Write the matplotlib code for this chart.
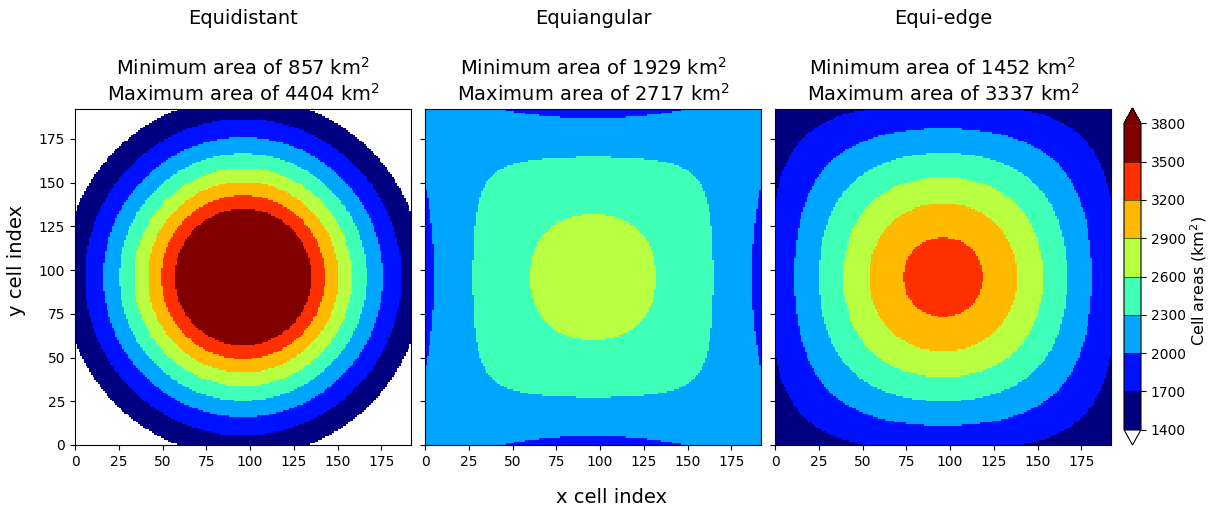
import numpy as np
import matplotlib
matplotlib.use('Agg')
import matplotlib.pyplot as plt
from matplotlib.colors import ListedColormap, BoundaryNorm

# grid description
n_cells = 192          # cells along one face edge
radius = 6371.0        # earth radius [km]

grid_names = ['Equidistant', 'Equiangular', 'Equi-edge']
min_areas = [857, 1929, 1452]     # km^2, as printed in the titles
max_areas = [4404, 2717, 3337]    # km^2
levels = [1400, 1700, 2000, 2300, 2600, 2900, 3200, 3500, 3800]
ticks = [0, 25, 50, 75, 100, 125, 150, 175]


def face_edges(kind):
    # gnomonic tangent-plane coordinates of the cell edges on one cube face
    if kind == 'Equidistant':
        return np.linspace(-1, 1, n_cells + 1)
    if kind == 'Equiangular':
        return np.tan(np.linspace(-np.pi / 4, np.pi / 4, n_cells + 1))
    a = np.arctan(1 / np.sqrt(2))
    return np.sqrt(2) * np.tan(np.linspace(-a, a, n_cells + 1))


def cell_areas(edges):
    # exact spherical area of gnomonic rectangles
    X, Y = np.meshgrid(edges, edges)
    F = np.arctan(X * Y / np.sqrt(1 + X**2 + Y**2))
    A = F[1:, 1:] - F[:-1, 1:] - F[1:, :-1] + F[:-1, :-1]
    return A * radius**2


colors = plt.cm.jet(np.linspace(0, 1, len(levels) - 1))
cmap = ListedColormap(colors)
cmap.set_under('white')
cmap.set_over(colors[-1])
norm = BoundaryNorm(levels, cmap.N)

fig = plt.figure(figsize=(12.09, 5.07), dpi=100)
lefts = [75, 425, 775]
idx = np.arange(n_cells + 1)

for i, name in enumerate(grid_names):
    ax = fig.add_axes([lefts[i] / 1209, 62 / 507, 336 / 1209, 336 / 507])
    area = cell_areas(face_edges(name))
    mesh = ax.pcolormesh(idx, idx, area, cmap=cmap, norm=norm)
    ax.set_xlim(0, n_cells)
    ax.set_ylim(0, n_cells)
    ax.set_xticks(ticks)
    ax.set_yticks(ticks)
    if i > 0:
        ax.set_yticklabels([])
    ax.set_title('Minimum area of %d km$^2$\n' % min_areas[i]
                 + 'Maximum area of %d km$^2$' % max_areas[i], fontsize=14)
    ax.text(0.5, 1 + 91 / 336, name, transform=ax.transAxes,
            ha='center', va='center', fontsize=14)

fig.text(17 / 1209, 1 - 261 / 507, 'y cell index', rotation=90,
         ha='center', va='center', fontsize=14)
fig.text(612 / 1209, 0.008, 'x cell index', ha='center', va='baseline', fontsize=14)

cax = fig.add_axes([1124 / 1209, 62 / 507, 17 / 1209, 337 / 507])
cb = fig.colorbar(mesh, cax=cax, extend='both', ticks=levels, drawedges=True)
cb.set_label('Cell areas (km$^2$)', fontsize=11.5, labelpad=2)
cax.yaxis.label.set_y(0.487)

fig.savefig('out.png', dpi=100)
